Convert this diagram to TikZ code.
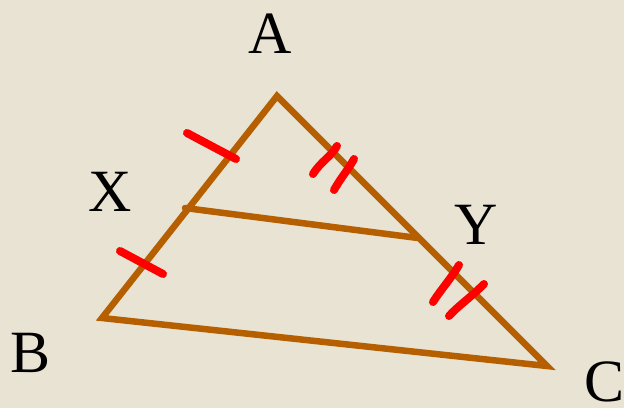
\documentclass[tikz,border=0pt]{standalone}
\usepackage{fontspec}
\setmainfont{Liberation Serif}
\definecolor{bg}{HTML}{E9E3D3}
\definecolor{edge}{HTML}{B55F00}
\definecolor{tick}{HTML}{FF0000}
\tikzset{
  side/.style={draw=edge, line width=6.5pt, line cap=round},
  tickmark/.style={draw=tick, line width=8pt, line cap=round},
  lbl/.style={font=\fontsize{60}{60}\selectfont, inner sep=0pt}
}
\begin{document}
\begin{tikzpicture}[x=1pt,y=-1pt]
\fill[bg] (0,0) rectangle (624,408);
\useasboundingbox (0,0) rectangle (624,408);
\coordinate (A) at (277,96);
\coordinate (B) at (102,318);
\coordinate (C) at (547,366);
\coordinate (X) at (185,208);
\coordinate (Y) at (418,238);
\draw[side] (A) -- (B) -- (C) -- cycle;
\draw[side] (X) -- (Y);
% ticks
\coordinate (t1a) at (187,133); \coordinate (t1b) at (236,159);
\coordinate (t2a) at (120,251); \coordinate (t2b) at (163,274);
\coordinate (t3a) at (337,146); \coordinate (t3b) at (313,174);
\coordinate (t4a) at (354,159); \coordinate (t4b) at (334,190);
\coordinate (t5a) at (459,265); \coordinate (t5b) at (433,302);
\coordinate (t6a) at (484,284); \coordinate (t6b) at (449,316);
\draw[tickmark] (t1a) -- (t1b);
\draw[tickmark] (t2a) -- (t2b);
\draw[tickmark] (t3a) .. controls (330,158) and (322,160) .. (t3b);
\draw[tickmark] (t4a) .. controls (348,170) and (342,176) .. (t4b);
\draw[tickmark] (t5a) .. controls (450,280) and (442,288) .. (t5b);
\draw[tickmark] (t6a) .. controls (470,298) and (458,306) .. (t6b);
\node[lbl] (lA) at (270,34) {A};
\node[lbl] (lX) at (110,192) {X};
\node[lbl] (lB) at (31,353) {B};
\node[lbl] (lY) at (476,225) {Y};
\node[lbl] (lC) at (605,382) {C};
\end{tikzpicture}
\end{document}
